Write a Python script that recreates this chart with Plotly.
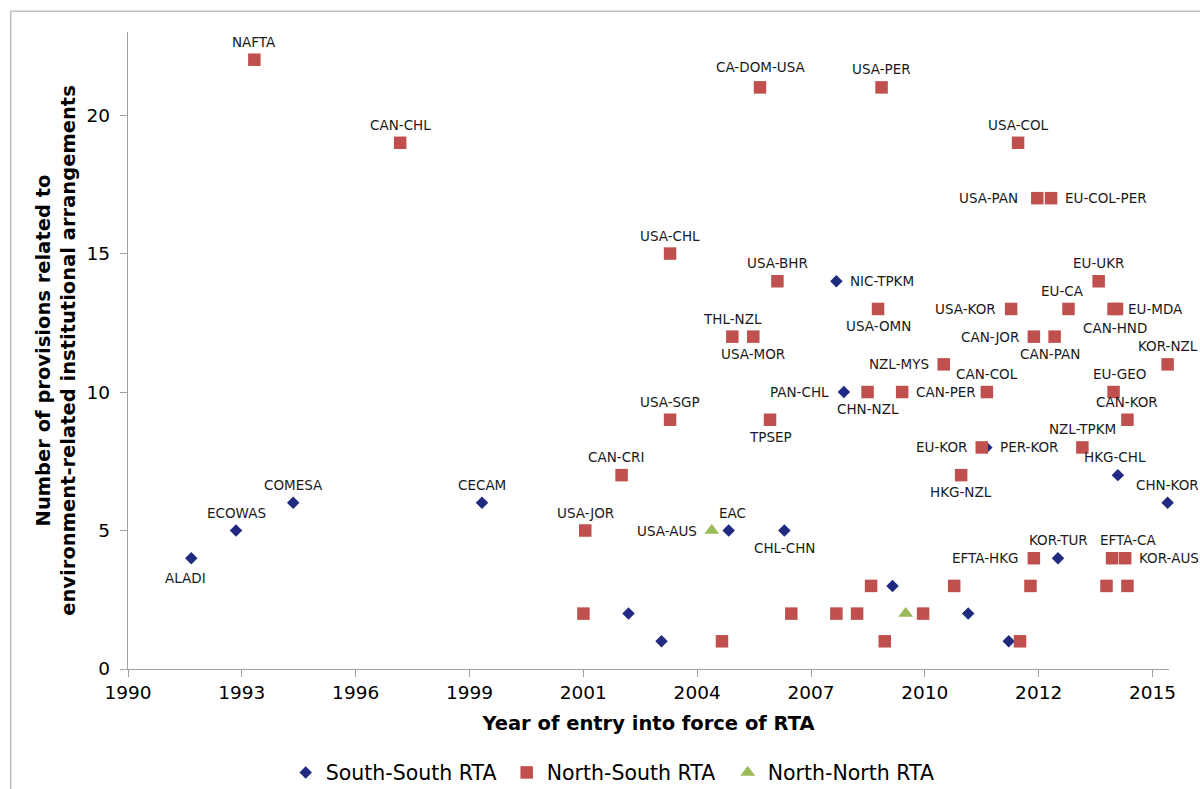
import plotly.graph_objects as go

# ---------------- data ----------------
ss_dates = ["1992-06-26", "1993-07-24", "1994-12-08", "1999-06-24", "2008-01-01",
            "2008-03-07", "2005-05-30", "2006-10-01", "2003-01-01", "2003-10-18",
            "2011-08-10", "2014-10-09", "2015-12-20", "2013-05-01", "2009-05-08",
            "2011-03-04", "2012-02-23"]
ss_values = [4, 5, 6, 6, 14, 10, 5, 5, 2, 1, 8, 7, 6, 4, 3, 2, 1]
ss_labels = ["ALADI", "ECOWAS", "COMESA", "CECAM", "NIC-TPKM", "PAN-CHL", "EAC",
             "CHL-CHN", "", "", "PER-KOR", "HKG-CHL", "CHN-KOR", "KOR-TUR", "", "", ""]

ns_dates = ["1994-01-01", "1997-07-05", "2006-03-01", "2009-02-01", "2012-05-15",
            "2012-10-31", "2013-03-01", "2004-01-01", "2006-08-01", "2014-04-23",
            "2009-01-01", "2012-03-15", "2013-08-01", "2014-09-01", "2014-10-01",
            "2005-07-01", "2006-01-01", "2012-10-01", "2013-04-01", "2010-08-01",
            "2015-12-20", "2008-10-01", "2009-08-01", "2011-08-15", "2014-09-01",
            "2004-01-01", "2006-05-28", "2015-01-01", "2011-07-01", "2013-12-01",
            "2002-11-01", "2011-01-01", "2001-12-17", "2012-10-01", "2014-08-19",
            "2014-12-12", "2008-11-01", "2010-11-01", "2012-09-01", "2014-07-01",
            "2015-01-01", "2001-12-01", "2006-12-01", "2008-01-01", "2008-07-01",
            "2010-02-01", "2005-04-01", "2009-03-01", "2012-06-01"]
ns_values = [22, 19, 21, 21, 19, 17, 17, 15, 14, 14,
             13, 13, 13, 13, 13, 12, 12, 12, 12, 11,
             11, 10, 10, 10, 10, 9, 9, 9, 8, 8,
             7, 7, 5, 4, 4, 4, 3, 3, 3, 3,
             3, 2, 2, 2, 2, 2, 1, 1, 1]
ns_labels = ["NAFTA", "CAN-CHL", "CA-DOM-USA", "USA-PER", "USA-COL",
             "USA-PAN", "EU-COL-PER", "USA-CHL", "USA-BHR", "EU-UKR",
             "USA-OMN", "USA-KOR", "EU-CA", "EU-MDA", "CAN-HND",
             "THL-NZL", "USA-MOR", "CAN-JOR", "CAN-PAN", "NZL-MYS",
             "KOR-NZL", "CHN-NZL", "CAN-PER", "CAN-COL", "EU-GEO",
             "USA-SGP", "TPSEP", "CAN-KOR", "EU-KOR", "NZL-TPKM",
             "CAN-CRI", "HKG-NZL", "USA-JOR", "EFTA-HKG", "EFTA-CA",
             "KOR-AUS", "", "", "", "",
             "", "", "", "", "",
             "", "", "", ""]

nn_dates = ["2005-01-01", "2009-09-01"]
nn_values = [5, 2]
nn_labels = ["USA-AUS", ""]

series_names = ["South-South RTA", "North-South RTA", "North-North RTA"]
x_tick_start = "1990-12-18"
x_end = "2016-01-01"

# ---------------- styling ----------------
label_side = {
    "ALADI": "b", "ECOWAS": "t", "COMESA": "t", "CECAM": "t", "NIC-TPKM": "r",
    "PAN-CHL": "l", "EAC": "t", "CHL-CHN": "b", "PER-KOR": "r", "HKG-CHL": "t",
    "CHN-KOR": "t", "KOR-TUR": "t",
    "NAFTA": "t", "CAN-CHL": "t", "CA-DOM-USA": "t", "USA-PER": "t", "USA-COL": "t",
    "USA-PAN": "l", "EU-COL-PER": "r", "USA-CHL": "t", "USA-BHR": "t", "EU-UKR": "t",
    "USA-OMN": "b", "USA-KOR": "l", "EU-CA": "t", "EU-MDA": "r", "CAN-HND": "b",
    "THL-NZL": "t", "USA-MOR": "b", "CAN-JOR": "l", "CAN-PAN": "b", "NZL-MYS": "l",
    "KOR-NZL": "t", "CHN-NZL": "b", "CAN-PER": "r", "CAN-COL": "t", "EU-GEO": "t",
    "USA-SGP": "t", "TPSEP": "b", "CAN-KOR": "t", "EU-KOR": "l", "NZL-TPKM": "t",
    "CAN-CRI": "t", "HKG-NZL": "b", "USA-JOR": "t", "EFTA-HKG": "l", "EFTA-CA": "t",
    "KOR-AUS": "r", "USA-AUS": "l",
}
label_nudge = {"EU-CA": (-6, 0), "CAN-PAN": (-5, 0), "EU-GEO": (6, 0), "CAN-CRI": (-6, 0),
               "ALADI": (-6, -3), "EFTA-CA": (16, 0), "CA-DOM-USA": (0, 2),
               "CAN-HND": (-2, -2), "HKG-CHL": (-3, 0), "EAC": (4, 0), "USA-PAN": (-4, 0)}

C_SS, C_NS, C_NN = "#1F2A80", "#C0504D", "#9BBB59"
FONT = "DejaVu Sans"

fig = go.Figure()
fig.add_trace(go.Scatter(x=ss_dates, y=ss_values, mode="markers", name=series_names[0],
                         marker=dict(symbol="diamond", size=9.6, color=C_SS, line=dict(width=0)),
                         cliponaxis=False, hoverinfo="skip"))
fig.add_trace(go.Scatter(x=ns_dates, y=ns_values, mode="markers", name=series_names[1],
                         marker=dict(symbol="square", size=12.5, color=C_NS, line=dict(width=0)),
                         cliponaxis=False, hoverinfo="skip"))
fig.add_trace(go.Scatter(x=nn_dates, y=nn_values, mode="markers", name=series_names[2],
                         marker=dict(symbol="triangle-up", size=13, color=C_NN, line=dict(width=0)),
                         cliponaxis=False, hoverinfo="skip"))

annotations = []
for dates, vals, labs in [(ss_dates, ss_values, ss_labels),
                          (ns_dates, ns_values, ns_labels),
                          (nn_dates, nn_values, nn_labels)]:
    for d, v, lab in zip(dates, vals, labs):
        if not lab:
            continue
        side = label_side.get(lab, "t")
        dx, dy = label_nudge.get(lab, (0, 0))
        if side == "t":
            kw = dict(xanchor="center", yanchor="middle", xshift=dx, yshift=18 + dy)
        elif side == "b":
            kw = dict(xanchor="center", yanchor="middle", xshift=dx, yshift=-17 + dy)
        elif side == "l":
            kw = dict(xanchor="right", yanchor="middle", xshift=-15 + dx, yshift=dy)
        else:
            kw = dict(xanchor="left", yanchor="middle", xshift=14 + dx, yshift=dy)
        annotations.append(dict(x=d, y=v, xref="x", yref="y", text=lab, showarrow=False,
                                font=dict(family=FONT, size=13.5, color="#1a1a1a"),
                                borderpad=0, borderwidth=0, **kw))

# page layout (body margin removed below, so figure pixels = page pixels)
FIG_W, FIG_H = 1200, 789
PLOT_L, PLOT_R, PLOT_T, PLOT_B = 128.3, 1169.3, 31.7, 669.3
L, T = PLOT_L, PLOT_T
R, B = FIG_W - PLOT_R, FIG_H - PLOT_B
W, H = PLOT_R - PLOT_L, PLOT_B - PLOT_T


def px_x(p):
    return (p - PLOT_L) / W


def px_y(p):
    return (PLOT_B - p) / H


shapes = [
    dict(type="line", xref="paper", yref="paper", x0=px_x(11), x1=px_x(1215),
         y0=px_y(11), y1=px_y(11), line=dict(color="#BFBFBF", width=1.5)),
    dict(type="line", xref="paper", yref="paper", x0=px_x(11), x1=px_x(11),
         y0=px_y(11), y1=px_y(800), line=dict(color="#BFBFBF", width=1.5)),
]

axis_col = "#A0A0A0"
fig.update_layout(
    width=FIG_W, height=FIG_H,
    margin=dict(l=L, r=R, t=T, b=B, autoexpand=False),
    paper_bgcolor="white", plot_bgcolor="white",
    font=dict(family=FONT, color="black"),
    showlegend=True,
    legend=dict(orientation="h", x=px_x(286), xanchor="left", y=px_y(773), yanchor="middle",
                font=dict(family=FONT, size=20.5, color="black"), itemwidth=30,
                entrywidth=176, entrywidthmode="pixels",
                bgcolor="rgba(0,0,0,0)"),
    xaxis=dict(type="date", range=[x_tick_start, x_end], tick0=x_tick_start,
               dtick=86400000 * 1000, tickformat="%Y", showgrid=False, zeroline=False,
               showline=True, linecolor=axis_col, linewidth=1.3, automargin=False,
               ticks="outside", ticklen=7, tickwidth=1.3, tickcolor=axis_col,
               tickfont=dict(family=FONT, size=18.5, color="black"),
               title=dict(text="<b>Year of entry into force of RTA</b>",
                          font=dict(family=FONT, size=19.5, color="black"), standoff=14)),
    yaxis=dict(range=[0, 23], dtick=5, tick0=0, showgrid=False, zeroline=False,
               showline=True, linecolor=axis_col, linewidth=1.3, automargin=False,
               ticks="outside", ticklen=7, tickwidth=1.3, tickcolor=axis_col,
               ticklabelstandoff=6,
               tickfont=dict(family=FONT, size=18.5, color="black"),
               title=dict(text="<b>Number of provisions related to<br>environment-related institutional arrangements</b>",
                          font=dict(family=FONT, size=19.5, color="black"), standoff=5)),
    annotations=annotations,
    shapes=shapes,
)

fig.write_html("out.html",
               config={"displayModeBar": False},
               post_script="document.body.style.margin='0';"
                           "document.documentElement.style.overflow='hidden';")
